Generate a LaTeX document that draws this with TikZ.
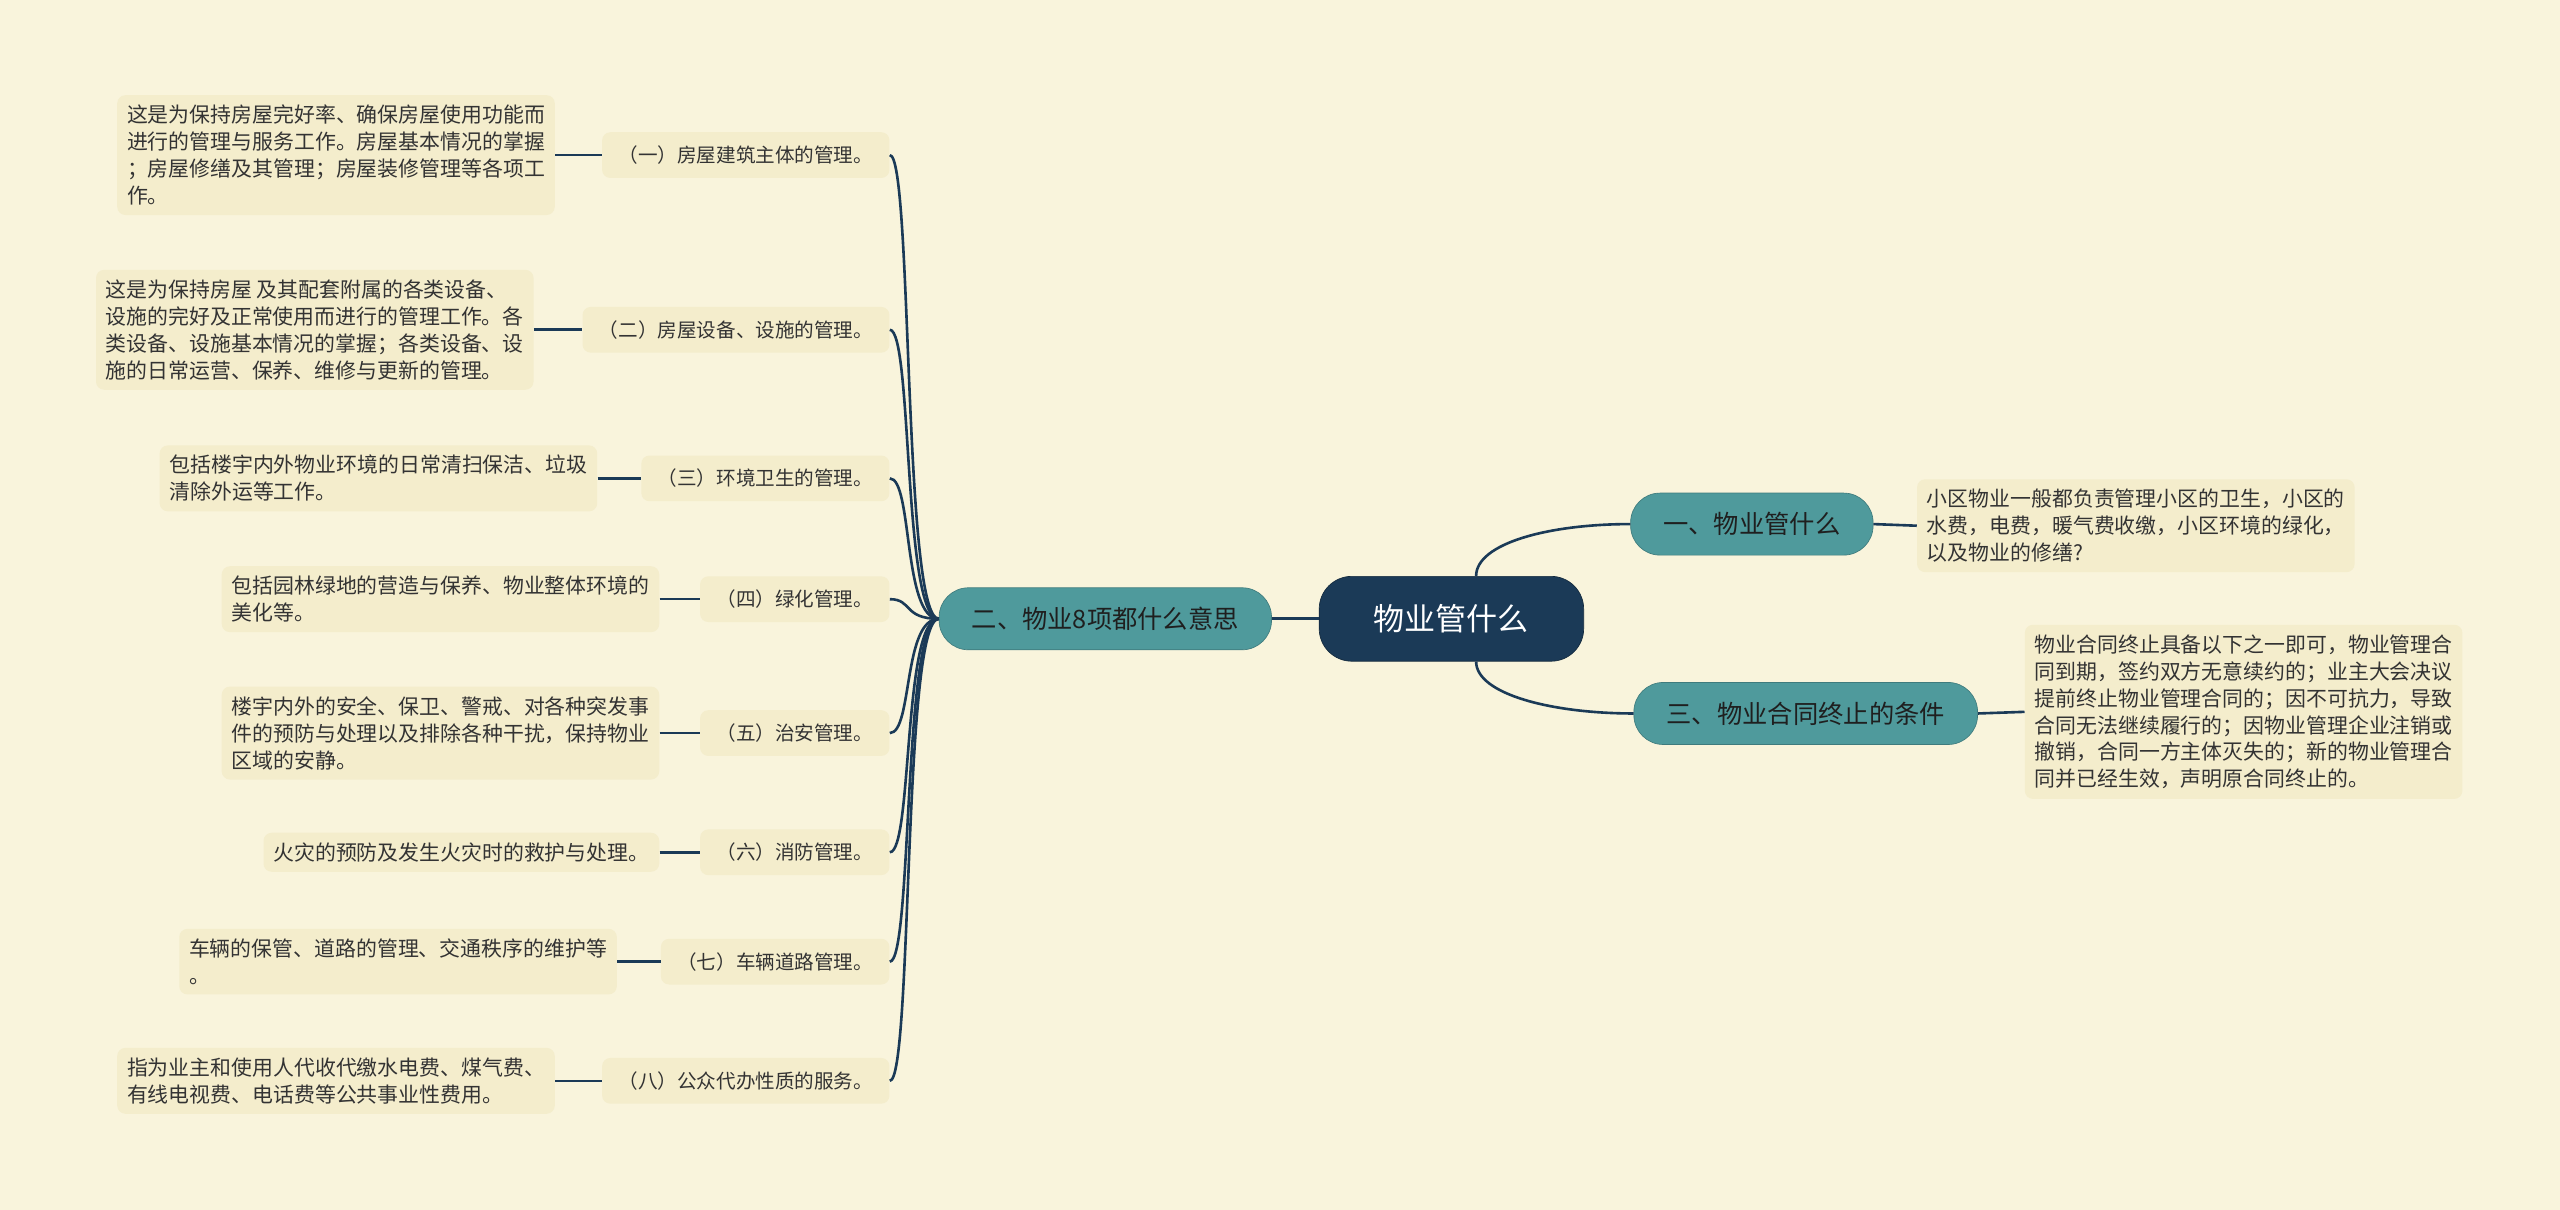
\documentclass[tikz,border=0pt]{standalone}
\usepackage{fontspec}
\setmainfont{Noto Sans CJK SC}
\usetikzlibrary{positioning}
\definecolor{bgc}{HTML}{F9F4DC}
\definecolor{leafc}{HTML}{F4EDCC}
\definecolor{navy}{HTML}{1B3A57}
\definecolor{tealc}{HTML}{4F9A9C}
\definecolor{txt}{HTML}{333333}
\begin{document}
\begin{tikzpicture}[x=1pt,y=-1pt]
    % `root' is the centre node, `branch' the teal ones.
    % `sub' and `leaf' are the pale text boxes.
    \tikzstyle{root} = [fill=navy,draw=navy!70!black,rounded corners=20pt,minimum width=162pt,minimum height=52pt,text=white,font=\fontsize{19}{22}\selectfont]
    \tikzstyle{branch} = [fill=tealc,draw=tealc!80!black,rounded corners=18pt,minimum height=38pt,inner xsep=20pt,text=txt!60!black,font=\fontsize{15.5}{18}\selectfont]
    \tikzstyle{sub} = [fill=leafc,rounded corners=5pt,minimum height=28pt,inner xsep=10pt,text=txt,font=\fontsize{12}{14}\selectfont]
    \tikzstyle{leaf} = [fill=leafc,rounded corners=5pt,inner sep=6pt,align=left,text=txt,font=\fontsize{12.8}{16.5}\selectfont]
    \tikzstyle{link} = [navy,line width=1.6pt]
    %
    \fill[bgc] (0,0) rectangle (1568,741);
    \node[root] (root) at (889,379) {物业管什么};
    \node[branch] (b1) at (1073,321) {一、物业管什么};
    \node[branch] (b3) at (1106,437) {三、物业合同终止的条件};
    \node[branch] (b2) at (677,379) {二、物业8项都什么意思};
    % right side leaves
    \node[leaf,anchor=west] (r1) at (1174,322) {小区物业一般都负责管理小区的卫生，小区的\\水费，电费，暖气费收缴，小区环境的绿化，\\以及物业的修缮?};
    \node[leaf,anchor=west] (r3) at (1240,436) {物业合同终止具备以下之一即可，物业管理合\\同到期，签约双方无意续约的；业主大会决议\\提前终止物业管理合同的；因不可抗力，导致\\合同无法继续履行的；因物业管理企业注销或\\撤销，合同一方主体灭失的；新的物业管理合\\同并已经生效，声明原合同终止的。};
    % left side items
    \node[sub,anchor=east] (s1) at (545,95) {（一）房屋建筑主体的管理。};
    \node[sub,anchor=east] (s2) at (545,202) {（二）房屋设备、设施的管理。};
    \node[sub,anchor=east] (s3) at (545,293) {（三）环境卫生的管理。};
    \node[sub,anchor=east] (s4) at (545,367) {（四）绿化管理。};
    \node[sub,anchor=east] (s5) at (545,449) {（五）治安管理。};
    \node[sub,anchor=east] (s6) at (545,522) {（六）消防管理。};
    \node[sub,anchor=east] (s7) at (545,589) {（七）车辆道路管理。};
    \node[sub,anchor=east] (s8) at (545,662) {（八）公众代办性质的服务。};
    \node[leaf,anchor=east] (l1) at (340,95) {这是为保持房屋完好率、确保房屋使用功能而\\进行的管理与服务工作。房屋基本情况的掌握\\；房屋修缮及其管理；房屋装修管理等各项工\\作。};
    \node[leaf,anchor=east] (l2) at (327,202) {这是为保持房屋 及其配套附属的各类设备、\\设施的完好及正常使用而进行的管理工作。各\\类设备、设施基本情况的掌握；各类设备、设\\施的日常运营、保养、维修与更新的管理。};
    \node[leaf,anchor=east] (l3) at (366,293) {包括楼宇内外物业环境的日常清扫保洁、垃圾\\清除外运等工作。};
    \node[leaf,anchor=east] (l4) at (404,367) {包括园林绿地的营造与保养、物业整体环境的\\美化等。};
    \node[leaf,anchor=east] (l5) at (404,449) {楼宇内外的安全、保卫、警戒、对各种突发事\\件的预防与处理以及排除各种干扰，保持物业\\区域的安静。};
    \node[leaf,anchor=east] (l6) at (404,522) {火灾的预防及发生火灾时的救护与处理。};
    \node[leaf,anchor=east] (l7) at (378,589) {车辆的保管、道路的管理、交通秩序的维护等\\。};
    \node[leaf,anchor=east] (l8) at (340,662) {指为业主和使用人代收代缴水电费、煤气费、\\有线电视费、电话费等公共事业性费用。};
    % connectors
    \draw[link] (root.60) .. controls +(0,-20) and +(-50,0) .. (b1.west);
    \draw[link] (root.-60) .. controls +(0,20) and +(-50,0) .. (b3.west);
    \draw[link] (root.west) -- (b2.east);
    \draw[link] (b1.east) -- (r1.west);
    \draw[link] (b3.east) -- (r3.west);
    \foreach \i in {1,...,8} {
      \draw[link] (b2.west) .. controls +(-22,0) and +(14,0) .. (s\i.east);
      \draw[link] (l\i.east) -- (s\i.west);
    }
\end{tikzpicture}
\end{document}
